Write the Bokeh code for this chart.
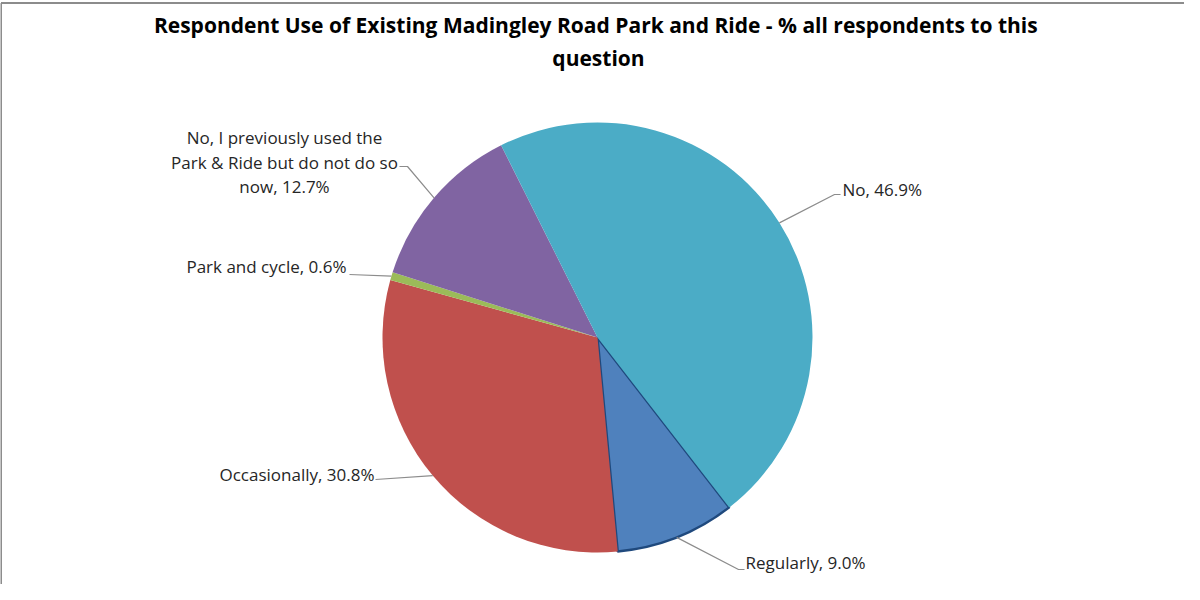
import math
import textwrap
from bokeh.plotting import figure
from bokeh.models import Range1d
from bokeh.core.properties import value
from bokeh.embed import file_html
from bokeh.resources import INLINE

# ---------------- data ----------------
categories = ["Regularly", "Occasionally", "Park and cycle",
              "No, I previously used the Park & Ride but do not do so now", "No"]
percent = [9.0, 30.8, 0.6, 12.7, 46.9]
colors = ["#4F81BD", "#C0504D", "#9BBB59", "#8064A2", "#4BACC6"]
title_lines = ["Respondent Use of Existing Madingley Road Park and Ride -  % all respondents to this",
               "question"]

# ---------------- layout (screen pixels, page coords) ----------------
W, H = 1184, 584
CX, CY, R = 605, 345, 215
FIRST_ANGLE = 142.2          # clockwise from 12 o'clock, degrees
FONT = "Open Sans"
label_pos = [(753, 569.5, "left"), (382, 481.5, "right"), (354, 273.5, "right"),
             (292, 169.5, "center"), (850, 196.5, "left")]
leader_end = [(752, 577), (383, 487), (357, 282), (407, 174), (848, 202)]
leader_elbow = [(746, 577), None, None, (415, 174), (842, 202)]


def sy(y):
    return 600 - y


p = figure(width=W, height=H, x_range=Range1d(8, 8 + W), y_range=Range1d(8, 8 + H),
           output_backend="svg", toolbar_location=None, min_border=0)
p.axis.visible = False
p.grid.visible = False
p.outline_line_color = None
p.background_fill_color = "white"
p.border_fill_color = "white"

# chart frame (left & top edges visible)
p.segment(x0=[8.5, 8.5], y0=[sy(10.5), sy(10.5)], x1=[8.5, 1300], y1=[sy(700), sy(10.5)],
          line_color="#8C8C8C", line_width=2)

# pie
total = sum(percent)
a = FIRST_ANGLE
starts, ends, mids = [], [], []
for v in percent:
    span = 360.0 * v / total
    starts.append(a)
    ends.append(a + span)
    mids.append(a + span / 2)
    a += span

for i, (s, e) in enumerate(zip(starts, ends)):
    lc = "#1F497D" if i == 0 else None
    p.wedge(x=CX, y=sy(CY), radius=R,
            start_angle=math.radians(90 - s), end_angle=math.radians(90 - e),
            direction="clock", fill_color=colors[i], line_color=lc,
            line_width=2.5 if i == 0 else 0)

# leader lines
for i, m in enumerate(mids):
    px = CX + R * math.sin(math.radians(m))
    py = CY - R * math.cos(math.radians(m))
    xs, ys = [px], [py]
    if leader_elbow[i] is not None:
        xs.append(leader_elbow[i][0]); ys.append(leader_elbow[i][1])
    xs.append(leader_end[i][0]); ys.append(leader_end[i][1])
    p.line(x=xs, y=[sy(y) for y in ys], line_color="#8C8C8C", line_width=1.2)

# labels
for i, (c, v) in enumerate(zip(categories, percent)):
    lines = textwrap.wrap(f"{c}, {v:.1f}%", width=28)
    lx, ly, al = label_pos[i]
    lh = 24.5
    y0 = ly - lh * (len(lines) - 1) / 2
    for k, t in enumerate(lines):
        p.text(x=[lx], y=[sy(y0 + k * lh)], text=[t], text_align=al, text_baseline="middle",
               text_font=value(FONT), text_font_size="17px", text_color="#262626")

# title
for k, t in enumerate(title_lines):
    p.text(x=[606], y=[sy(32 + 33 * k)], text=[t], text_align="center", text_baseline="middle",
           text_font=value(FONT), text_font_size="21px", text_font_style="bold",
           text_color="#000000")

open("out.html", "w").write(file_html(p, INLINE))
